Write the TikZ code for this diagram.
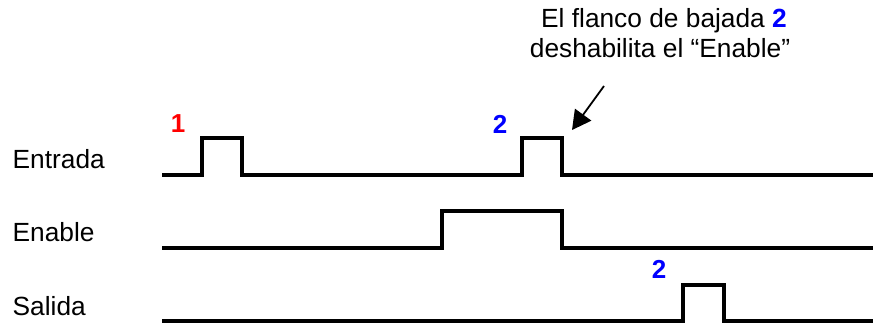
\documentclass[tikz,border=0pt]{standalone}
\usepackage{fontspec}
\setmainfont{Liberation Sans}
\usetikzlibrary{arrows.meta}
\definecolor{numred}{RGB}{255,0,0}
\definecolor{numblue}{RGB}{0,0,255}
\tikzset{
  wave/.style={line width=3.2pt, line join=miter},
  sig/.style={anchor=base west, inner sep=0pt, font=\fontsize{26.3}{30}\selectfont},
  num/.style={inner sep=0pt, font=\fontsize{26}{30}\selectfont\bfseries},
  note/.style={inner sep=0pt, align=center, font=\fontsize{26.3}{30}\selectfont},
  pointer/.style={line width=1.8pt, -{Triangle[length=19pt,width=20pt]}}
}
\begin{document}
\begin{tikzpicture}[x=1pt,y=-1pt]
\useasboundingbox (0,0) rectangle (874,324);
% labels
\node[sig] (entrada) at (12.5,168) {Entrada};
\node[sig] (enable) at (12.5,241) {Enable};
\node[sig] (salida) at (12.5,315) {Salida};
% waveforms
\draw[wave] (162,175) -- (202,175) -- (202,138) -- (242,138) -- (242,175)
  -- (522,175) -- (522,138) -- (562,138) -- (562,175) -- (873,175);
\draw[wave] (162,248) -- (442,248) -- (442,211) -- (562,211) -- (562,248) -- (873,248);
\draw[wave] (162,321) -- (683,321) -- (683,285) -- (724,285) -- (724,321) -- (873,321);
% numbers
\node[num, text=numred] (n1) at (178,124) {1};
\node[num, text=numblue] (n2) at (500,124) {2};
\node[num, text=numblue] (n3) at (659,269) {2};
% annotation
\node[note, anchor=base] (line1) at (664,27) {El flanco de bajada \textbf{\color{numblue}2}};
\node[note, anchor=base] (line2) at (660,57) {deshabilita el “Enable”};
\coordinate (tail) at (604,86);
\coordinate (tip) at (572,130);
\draw[pointer] (tail) -- (tip);
\end{tikzpicture}
\end{document}
